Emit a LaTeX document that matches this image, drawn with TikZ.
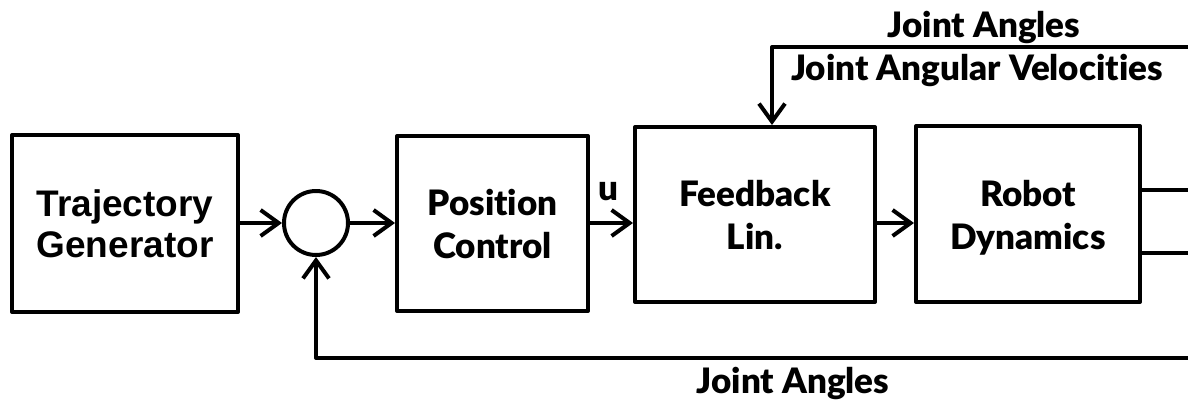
\documentclass[tikz,border=0pt]{standalone}
\usepackage{fontspec}
\setmainfont{Lato}[BoldFont={Lato Black}, Ligatures=NoCommon]
\newfontfamily\arialfont{Liberation Sans}
\usetikzlibrary{arrows.meta}
\newcommand{\lowtext}[1]{\raisebox{-5pt}[\height][\depth]{\begin{tabular}{@{}c@{}}#1\end{tabular}}}
\tikzset{
  box/.style={draw, line width=4pt, rectangle, align=center, inner sep=0pt},
  gill/.style={font=\bfseries\fontsize{35}{43}\selectfont},
  arl/.style={font=\arialfont\bfseries\fontsize{37}{41}\selectfont},
  conn/.style={line width=4pt},
  arr/.style={conn, -{Straight Barb[length=18pt, width=26pt, line width=4pt]}},
  lbl/.style={inner sep=0pt, gill}
}
\begin{document}
\begin{tikzpicture}[x=1pt, y=-1pt, line join=round]
\useasboundingbox (0,0) rectangle (1188,403);
\node[box, arl, minimum width=226pt, minimum height=177pt] (tg) at (125,223.5) {Trajectory\\Generator};
\node[draw, circle, line width=4pt, minimum size=64pt, inner sep=0pt] (sum) at (316,223) {};
\node[box, gill, minimum width=191pt, minimum height=175pt] (pc) at (492.5,223.5) {Position\\Control};
\node[box, gill, minimum width=240pt, minimum height=175pt] (fl) at (755,214.5) {\lowtext{Feedback\\Lin.}};
\node[box, gill, minimum width=224pt, minimum height=176pt] (rd) at (1028,214) {\lowtext{Robot\\Dynamics}};

\coordinate (o1) at (1188,190);
\coordinate (o2) at (1188,253);
\coordinate (tr) at (1188,47);
\coordinate (tl) at (772,47);
\coordinate (br) at (1188,358);
\coordinate (flin) at (635,223);
\coordinate (rdin) at (916,223);

\draw[arr] (tg.east |- sum) -- (sum.west);
\draw[arr] (sum.east) -- (pc.west |- sum.east);
\draw[arr] (pc.east |- flin) -- (fl.west |- flin);
\draw[arr] (fl.east |- rdin) -- (rd.west |- rdin);
\draw[conn] (rd.east |- o1) -- (o1);
\draw[conn] (rd.east |- o2) -- (o2);
\draw[arr] (tr) -- (tl) -- (tl |- fl.north);
\draw[arr] (br) -| (sum.south);

\node[lbl] (u) at (608,192) {u};
\node[lbl] (ja1) at (984,27) {Joint Angles};
\node[lbl] (jav) at (977,70) {Joint Angular Velocities};
\node[lbl] (ja2) at (793,383) {Joint Angles};
\end{tikzpicture}
\end{document}
